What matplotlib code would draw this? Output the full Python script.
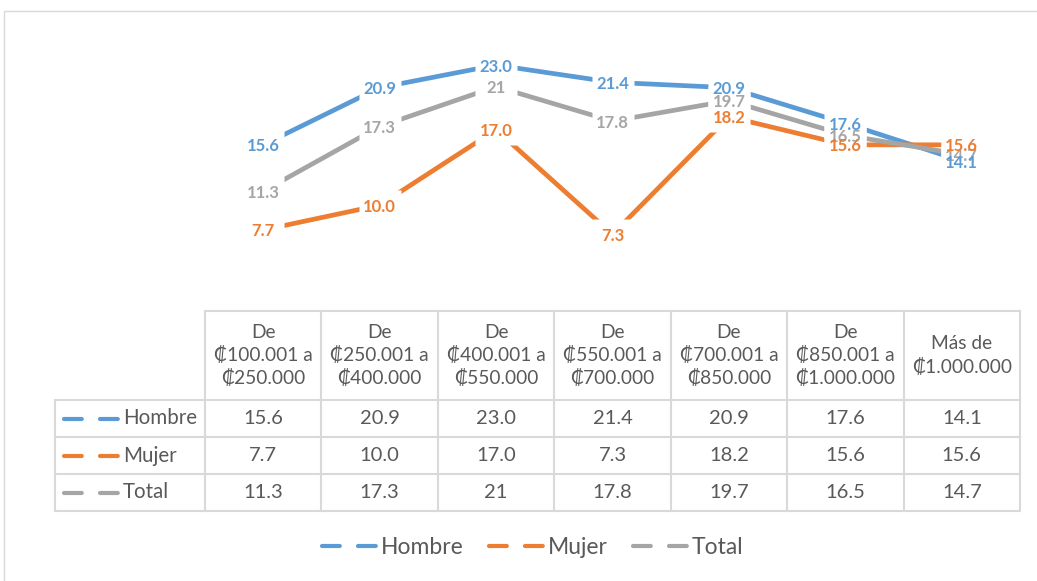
import matplotlib.pyplot as plt
from matplotlib.lines import Line2D
from matplotlib.path import Path
import numpy as np

# Data
categories = ["De\n₡100.001 a\n₡250.000", "De\n₡250.001 a\n₡400.000",
              "De\n₡400.001 a\n₡550.000", "De\n₡550.001 a\n₡700.000",
              "De\n₡700.001 a\n₡850.000", "De\n₡850.001 a\n₡1.000.000",
              "Más de\n₡1.000.000"]
series_names = ["Hombre", "Mujer", "Total"]
hombre = [15.6, 20.9, 23.0, 21.4, 20.9, 17.6, 14.1]
mujer = [7.7, 10.0, 17.0, 7.3, 18.2, 15.6, 15.6]
total = [11.3, 17.3, 21.0, 17.8, 19.7, 16.5, 14.7]
total_text = ["11.3", "17.3", "21", "17.8", "19.7", "16.5", "14.7"]

colors = ["#5B9BD5", "#ED7D31", "#A5A5A5"]
txt_color = "#595959"
grid_color = "#D9D9D9"
fam = ["Lato", "DejaVu Sans"]

W, H = 1037, 581
fig = plt.figure(figsize=(W / 100, H / 100), dpi=100)

# layout in pixels
tab_left, lab_left, tab_right = 205, 55, 1020
head_top, head_bot = 311, 400
row_h = 37
y0_px, y25_px = 313, 43.5

# white label box (like Excel's filled data labels), 42 x 30 px
ratio = 15 / 21
label_box = Path([(-0.5, -0.5 * ratio), (0.5, -0.5 * ratio), (0.5, 0.5 * ratio),
                  (-0.5, 0.5 * ratio), (-0.5, -0.5 * ratio)], closed=True)

# background axes in pixel coords (border + table)
tax = fig.add_axes([0, 0, 1, 1])
tax.set_xlim(0, W)
tax.set_ylim(H, 0)
tax.axis("off")
tax.add_patch(plt.Rectangle((4, 11), W, H, fill=False, edgecolor=grid_color, lw=1))

# line chart axes
ax = fig.add_axes([tab_left / W, (H - y0_px) / H, (tab_right - tab_left) / W,
                   (y0_px - y25_px) / H])
ax.set_xlim(-0.5, len(categories) - 0.5)
ax.set_ylim(0, 25)
ax.axis("off")

x = np.arange(len(categories))
all_vals = [hombre, mujer, total]
all_text = [[f"{v:.1f}" for v in hombre], [f"{v:.1f}" for v in mujer], total_text]
label_z = [7, 6, 5]
for vals, texts, c, z in zip(all_vals, all_text, colors, label_z):
    ax.plot(x, vals, color=c, lw=3.4, solid_joinstyle="round", solid_capstyle="butt", zorder=2)
    ax.plot(x, vals, ls="none", marker=label_box, ms=30.2, mfc="white",
            mec="none", zorder=3)
    for xi, v, t in zip(x, vals, texts):
        ax.text(xi, v, t, ha="center", va="center_baseline", color=c, fontsize=12,
                fontweight="bold", family=fam, zorder=z)

# table
ncol = len(categories)
col_w = (tab_right - tab_left) / ncol
col_edges = tab_left + col_w * np.arange(ncol + 1)
row_edges = head_bot + row_h * np.arange(len(series_names) + 1)
glw = 1.5
tax.plot([tab_left, tab_right], [head_top, head_top], color=grid_color, lw=glw)
for ye in row_edges:
    tax.plot([lab_left, tab_right], [ye, ye], color=grid_color, lw=glw)
tax.plot([lab_left, lab_left], [head_bot, row_edges[-1]], color=grid_color, lw=glw)
for xe in col_edges:
    tax.plot([xe, xe], [head_top, row_edges[-1]], color=grid_color, lw=glw)

for i, cat in enumerate(categories):
    cx = (col_edges[i] + col_edges[i + 1]) / 2
    tax.text(cx, (head_top + head_bot) / 2, cat, ha="center", va="center",
             fontsize=13.8, color=txt_color, family=fam, linespacing=1.35)

key_dash = (4.27, 4.37)
for r, (name, vals, texts, c) in enumerate(zip(series_names, all_vals, all_text, colors)):
    cy = (row_edges[r] + row_edges[r + 1]) / 2
    tax.plot([64.1, 117.9], [cy, cy], color=c, lw=3, dashes=key_dash,
             dash_capstyle="round")
    tax.text(123, cy, name, ha="left", va="center", fontsize=14.8,
             color=txt_color, family=fam)
    for i, t in enumerate(texts):
        cx = (col_edges[i] + col_edges[i + 1]) / 2
        tax.text(cx, cy, t, ha="center", va="center", fontsize=14.5,
                 color=txt_color, family=fam)

# legend
handles = [Line2D([], [], color=c, lw=3, dashes=key_dash, dash_capstyle="round")
           for c in colors]
leg = fig.legend(handles, series_names, loc="center", ncol=3, frameon=False,
                 bbox_to_anchor=(533 / W, 1 - 548 / H), handlelength=2.35,
                 handletextpad=0.22, columnspacing=1.1,
                 prop={"family": fam, "size": 16.5})
for t in leg.get_texts():
    t.set_color(txt_color)

fig.savefig("out.png", dpi=100)
